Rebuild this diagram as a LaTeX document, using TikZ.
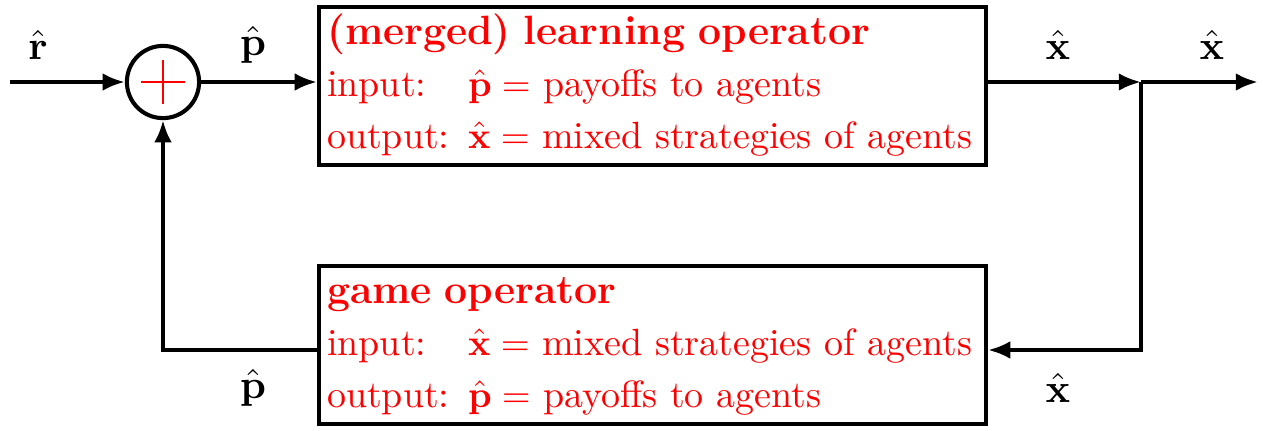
\documentclass[tikz,border=0pt]{standalone}
\usetikzlibrary{arrows.meta,calc}
\begin{document}
\begin{tikzpicture}[x=0.27pt,y=-0.27pt,line width=1.1pt,
  conn/.style={-{Latex[length=6pt,width=4.8pt]}},
  opbox/.style={draw,line width=1.1pt,inner xsep=2.2pt,inner ysep=0pt,
    text width=175.7pt,minimum height=42.7pt,align=left,text=red,
    font=\fontsize{10.25}{14}\selectfont},
  lbl/.style={font=\fontsize{10.5}{12}\selectfont}]
\useasboundingbox (0,0) rectangle (1268,430);
\newcommand\ttl[1]{\multicolumn{2}{@{}l@{}}{\fontsize{11.05}{14}\selectfont\bfseries #1}}
\node[opbox] (learn) at (652.5,86) {\begin{tabular}{@{}l@{\hspace{5pt}}l@{}}
\ttl{(merged) learning operator}\\
input: & $\hat{\mathbf p}=$ payoffs to agents\\
output: & $\hat{\mathbf x}=$ mixed strategies of agents
\end{tabular}};
\node[opbox] (game) at (652.5,345) {\begin{tabular}{@{}l@{\hspace{5pt}}l@{}}
\ttl{game operator}\\
input: & $\hat{\mathbf x}=$ mixed strategies of agents\\
output: & $\hat{\mathbf p}=$ payoffs to agents
\end{tabular}};
\node[draw,circle,minimum size=19.5pt,inner sep=0pt] (sum) at (163,82) {};
\draw[red,line width=0.65pt] ($(sum)+(-22,0)$) -- ($(sum)+(22,0)$)
  ($(sum)+(0,-22)$) -- ($(sum)+(0,22)$);
\coordinate (in) at (10,82);
\coordinate (br) at (1141,82);
\coordinate (out) at (1258,82);
\coordinate (gin) at ($(game.east)+(0,5)$);
\coordinate (gout) at ($(game.west)+(0,5)$);
\draw[conn] (in) -- (sum);
\draw[conn] (sum) -- (sum -| learn.west);
\draw[conn] (br -| learn.east) -- (br);
\draw[conn] (br) -- (out);
\draw[conn] (br) |- (gin);
\draw[conn] (gout) -| (sum.south);
\node[lbl] (lr) at (38,45) {$\hat{\mathbf r}$};
\node[lbl] (lp1) at (253,45) {$\hat{\mathbf p}$};
\node[lbl] (lx1) at (1058,45) {$\hat{\mathbf x}$};
\node[lbl] (lx2) at (1212,45) {$\hat{\mathbf x}$};
\node[lbl] (lp2) at (253,388) {$\hat{\mathbf p}$};
\node[lbl] (lx3) at (1058,388) {$\hat{\mathbf x}$};
\end{tikzpicture}
\end{document}
